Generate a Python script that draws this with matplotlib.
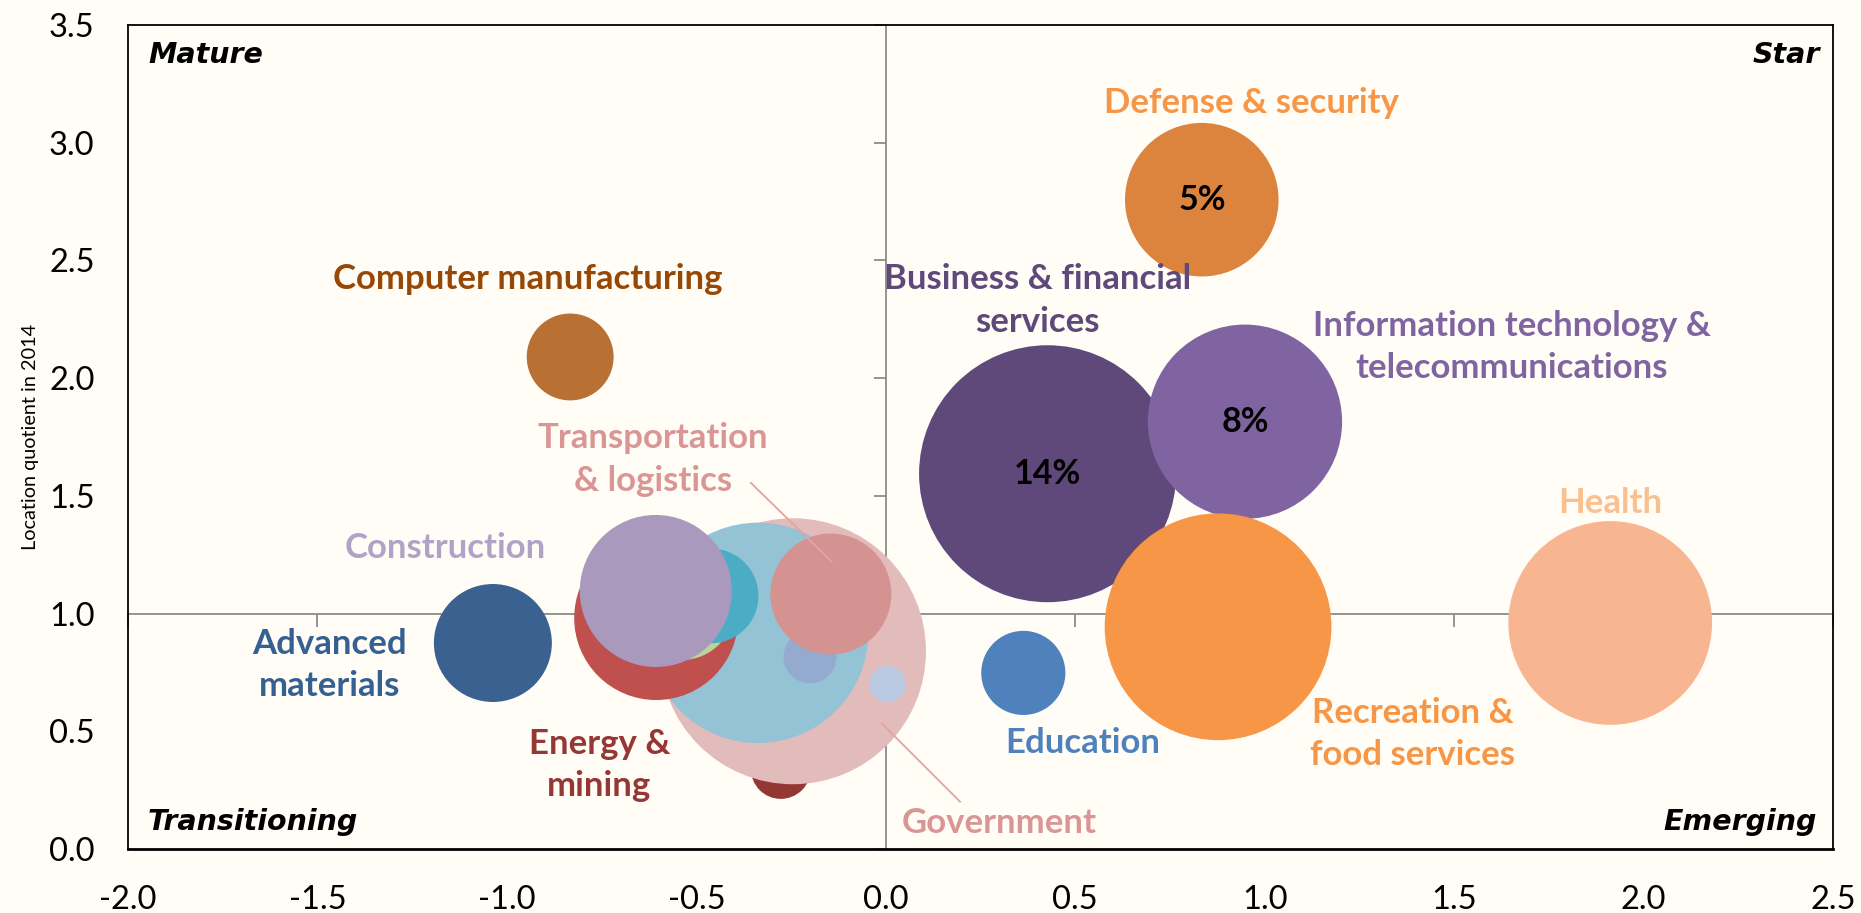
import numpy as np
import matplotlib
matplotlib.use("Agg")
import matplotlib.pyplot as plt
from matplotlib.ticker import FormatStrFormatter

plt.rcParams["font.family"] = ["Lato", "DejaVu Sans"]
plt.rcParams["axes.unicode_minus"] = False

# ---- data -------------------------------------------------------------
# Bubbles listed in drawing order (back to front).
categories = [
    "Energy & mining", "Government", "Cluster A", "Cluster B", "Cluster C",
    "Cluster D", "Construction", "Cluster E", "Transportation & logistics",
    "Cluster F", "Advanced materials", "Computer manufacturing", "Education",
    "Health", "Business & financial services",
    "Information technology & telecommunications",
    "Recreation & food services", "Defense & security",
]
growth = [-0.277, -0.245, -0.337, -0.606, -0.538, -0.461, -0.607, -0.200,
          -0.145, 0.004, -1.037, -0.833, 0.363, 1.912, 0.427, 0.948,
          0.877, 0.834]
location_quotient = [0.34, 0.84, 0.918, 0.981, 1.024, 1.075, 1.096, 0.816,
                     1.083, 0.70, 0.875, 2.09, 0.748, 0.96, 1.594, 1.815,
                     0.944, 2.758]
employment_share = [0.76, 15.0, 10.3, 5.7, 2.3, 1.9, 4.9, 0.59, 3.1, 0.28,
                    2.95, 1.6, 1.5, 8.8, 14, 8, 10.9, 5]
bubble_colors = ["#943634", "#E2BBBB", "#93C3D5", "#C0504D", "#BCD19B",
                 "#4BACC6", "#A99ABD", "#95AACF", "#D49291", "#B9CAE2",
                 "#3A6190", "#B87033", "#4F81BD", "#F8B592", "#5F497A",
                 "#8064A2", "#F79646", "#DC843E"]
share_labelled = ["Business & financial services",
                  "Information technology & telecommunications",
                  "Defense & security"]

x_ticks = [-2.0, -1.5, -1.0, -0.5, 0.0, 0.5, 1.0, 1.5, 2.0, 2.5]
y_ticks = [0.0, 0.5, 1.0, 1.5, 2.0, 2.5, 3.0, 3.5]

# ---- label layout ------------------------------------------------------
label_layout = {
    "Computer manufacturing": ("Computer manufacturing", -0.944, 2.420, "#974806"),
    "Defense & security": ("Defense & security", 0.965, 3.167, "#F79646"),
    "Business & financial services": ("Business & financial\nservices", 0.400, 2.330, "#5F497A"),
    "Information technology & telecommunications": ("Information technology &\ntelecommunications", 1.652, 2.133, "#8064A2"),
    "Health": ("Health", 1.913, 1.470, "#FAC090"),
    "Recreation & food services": ("Recreation &\nfood services", 1.391, 0.489, "#F79646"),
    "Education": ("Education", 0.519, 0.450, "#4F81BD"),
    "Government": ("Government", 0.300, 0.110, "#D99694"),
    "Energy & mining": ("Energy &\nmining", -0.756, 0.358, "#953735"),
    "Construction": ("Construction", -1.162, 1.279, "#B3A2C7"),
    "Advanced materials": ("Advanced\nmaterials", -1.467, 0.782, "#376092"),
    "Transportation & logistics": ("Transportation\n& logistics", -0.614, 1.655, "#D99694"),
}
leader_lines = [((-0.356, 1.555), (-0.142, 1.219)),
                ((-0.011, 0.534), (0.196, 0.201))]

bg = "#FFFDF6"
W, H, DPI = 1861, 913, 100
fig = plt.figure(figsize=(W / DPI, H / DPI), dpi=DPI, facecolor=bg)
rect = [128 / W, 64 / H, 1705 / W, 824 / H]

# Crossing reference axes (x = 0, y = 1) drawn underneath the bubbles
ax_bg = fig.add_axes(rect, facecolor=bg, zorder=0)
ax_bg.set_xlim(-2.0, 2.5)
ax_bg.set_ylim(0.0, 3.5)
for side in ("top", "right"):
    ax_bg.spines[side].set_visible(False)
ax_bg.spines["left"].set_position(("data", 0.0))
ax_bg.spines["bottom"].set_position(("data", 1.0))
for side in ("left", "bottom"):
    ax_bg.spines[side].set_color("#8C8C8C")
    ax_bg.spines[side].set_linewidth(1.3)
ax_bg.set_xticks(x_ticks)
ax_bg.set_yticks(y_ticks)
ax_bg.tick_params(direction="out", length=9, width=1.3, color="#8C8C8C",
                  labelleft=False, labelbottom=False)

# Main axes: frame, tick labels and bubbles
ax = fig.add_axes(rect, facecolor="none", zorder=1)
ax.set_xlim(-2.0, 2.5)
ax.set_ylim(0.0, 3.5)
for side in ax.spines.values():
    side.set_color("black")
    side.set_linewidth(1.3)
ax.spines["bottom"].set_linewidth(2.0)
ax.set_xticks(x_ticks)
ax.set_yticks(y_ticks)
ax.xaxis.set_major_formatter(FormatStrFormatter("%.1f"))
ax.yaxis.set_major_formatter(FormatStrFormatter("%.1f"))
ax.tick_params(axis="x", length=0, pad=26, labelsize=23.5)
ax.tick_params(axis="y", length=0, pad=24, labelsize=23.5)
ax.set_ylabel("Location quotient in 2014", fontsize=14.3, labelpad=7)

# bubble area proportional to employment share
px_per_sqrt_share = 34.34
pt_per_px = 72.0 / DPI
sizes = [(2 * px_per_sqrt_share * np.sqrt(s) * pt_per_px) ** 2 for s in employment_share]
ax.scatter(growth, location_quotient, s=sizes, c=bubble_colors,
           linewidths=0, zorder=2)

for name, gx, lq, share in zip(categories, growth, location_quotient, employment_share):
    if name in share_labelled:
        ax.text(gx, lq, f"{share:.0f}%", ha="center", va="center",
                fontsize=24.5, fontweight="bold", color="black", zorder=4)

for (x0, y0), (x1, y1) in leader_lines:
    ax.plot([x0, x1], [y0, y1], color="#E3A3A3", lw=1.3, zorder=3)

for key, (txt, lx, ly, col) in label_layout.items():
    ax.text(lx, ly, txt, ha="center", va="center", fontsize=25,
            fontweight="bold", color=col, linespacing=1.4, zorder=4)

quad_kw = dict(fontsize=20.5, fontweight="bold", style="italic", color="black",
               family=["DejaVu Sans"], transform=ax.transAxes)
ax.text(0.0117, 0.9535, "Mature", ha="left", va="baseline", **quad_kw)
ax.text(0.9921, 0.9535, "Star", ha="right", va="baseline", **quad_kw)
ax.text(0.0117, 0.023, "Transitioning", ha="left", va="baseline", **quad_kw)
ax.text(0.9905, 0.023, "Emerging", ha="right", va="baseline", **quad_kw)

fig.savefig("out.png", dpi=DPI, facecolor=bg)
